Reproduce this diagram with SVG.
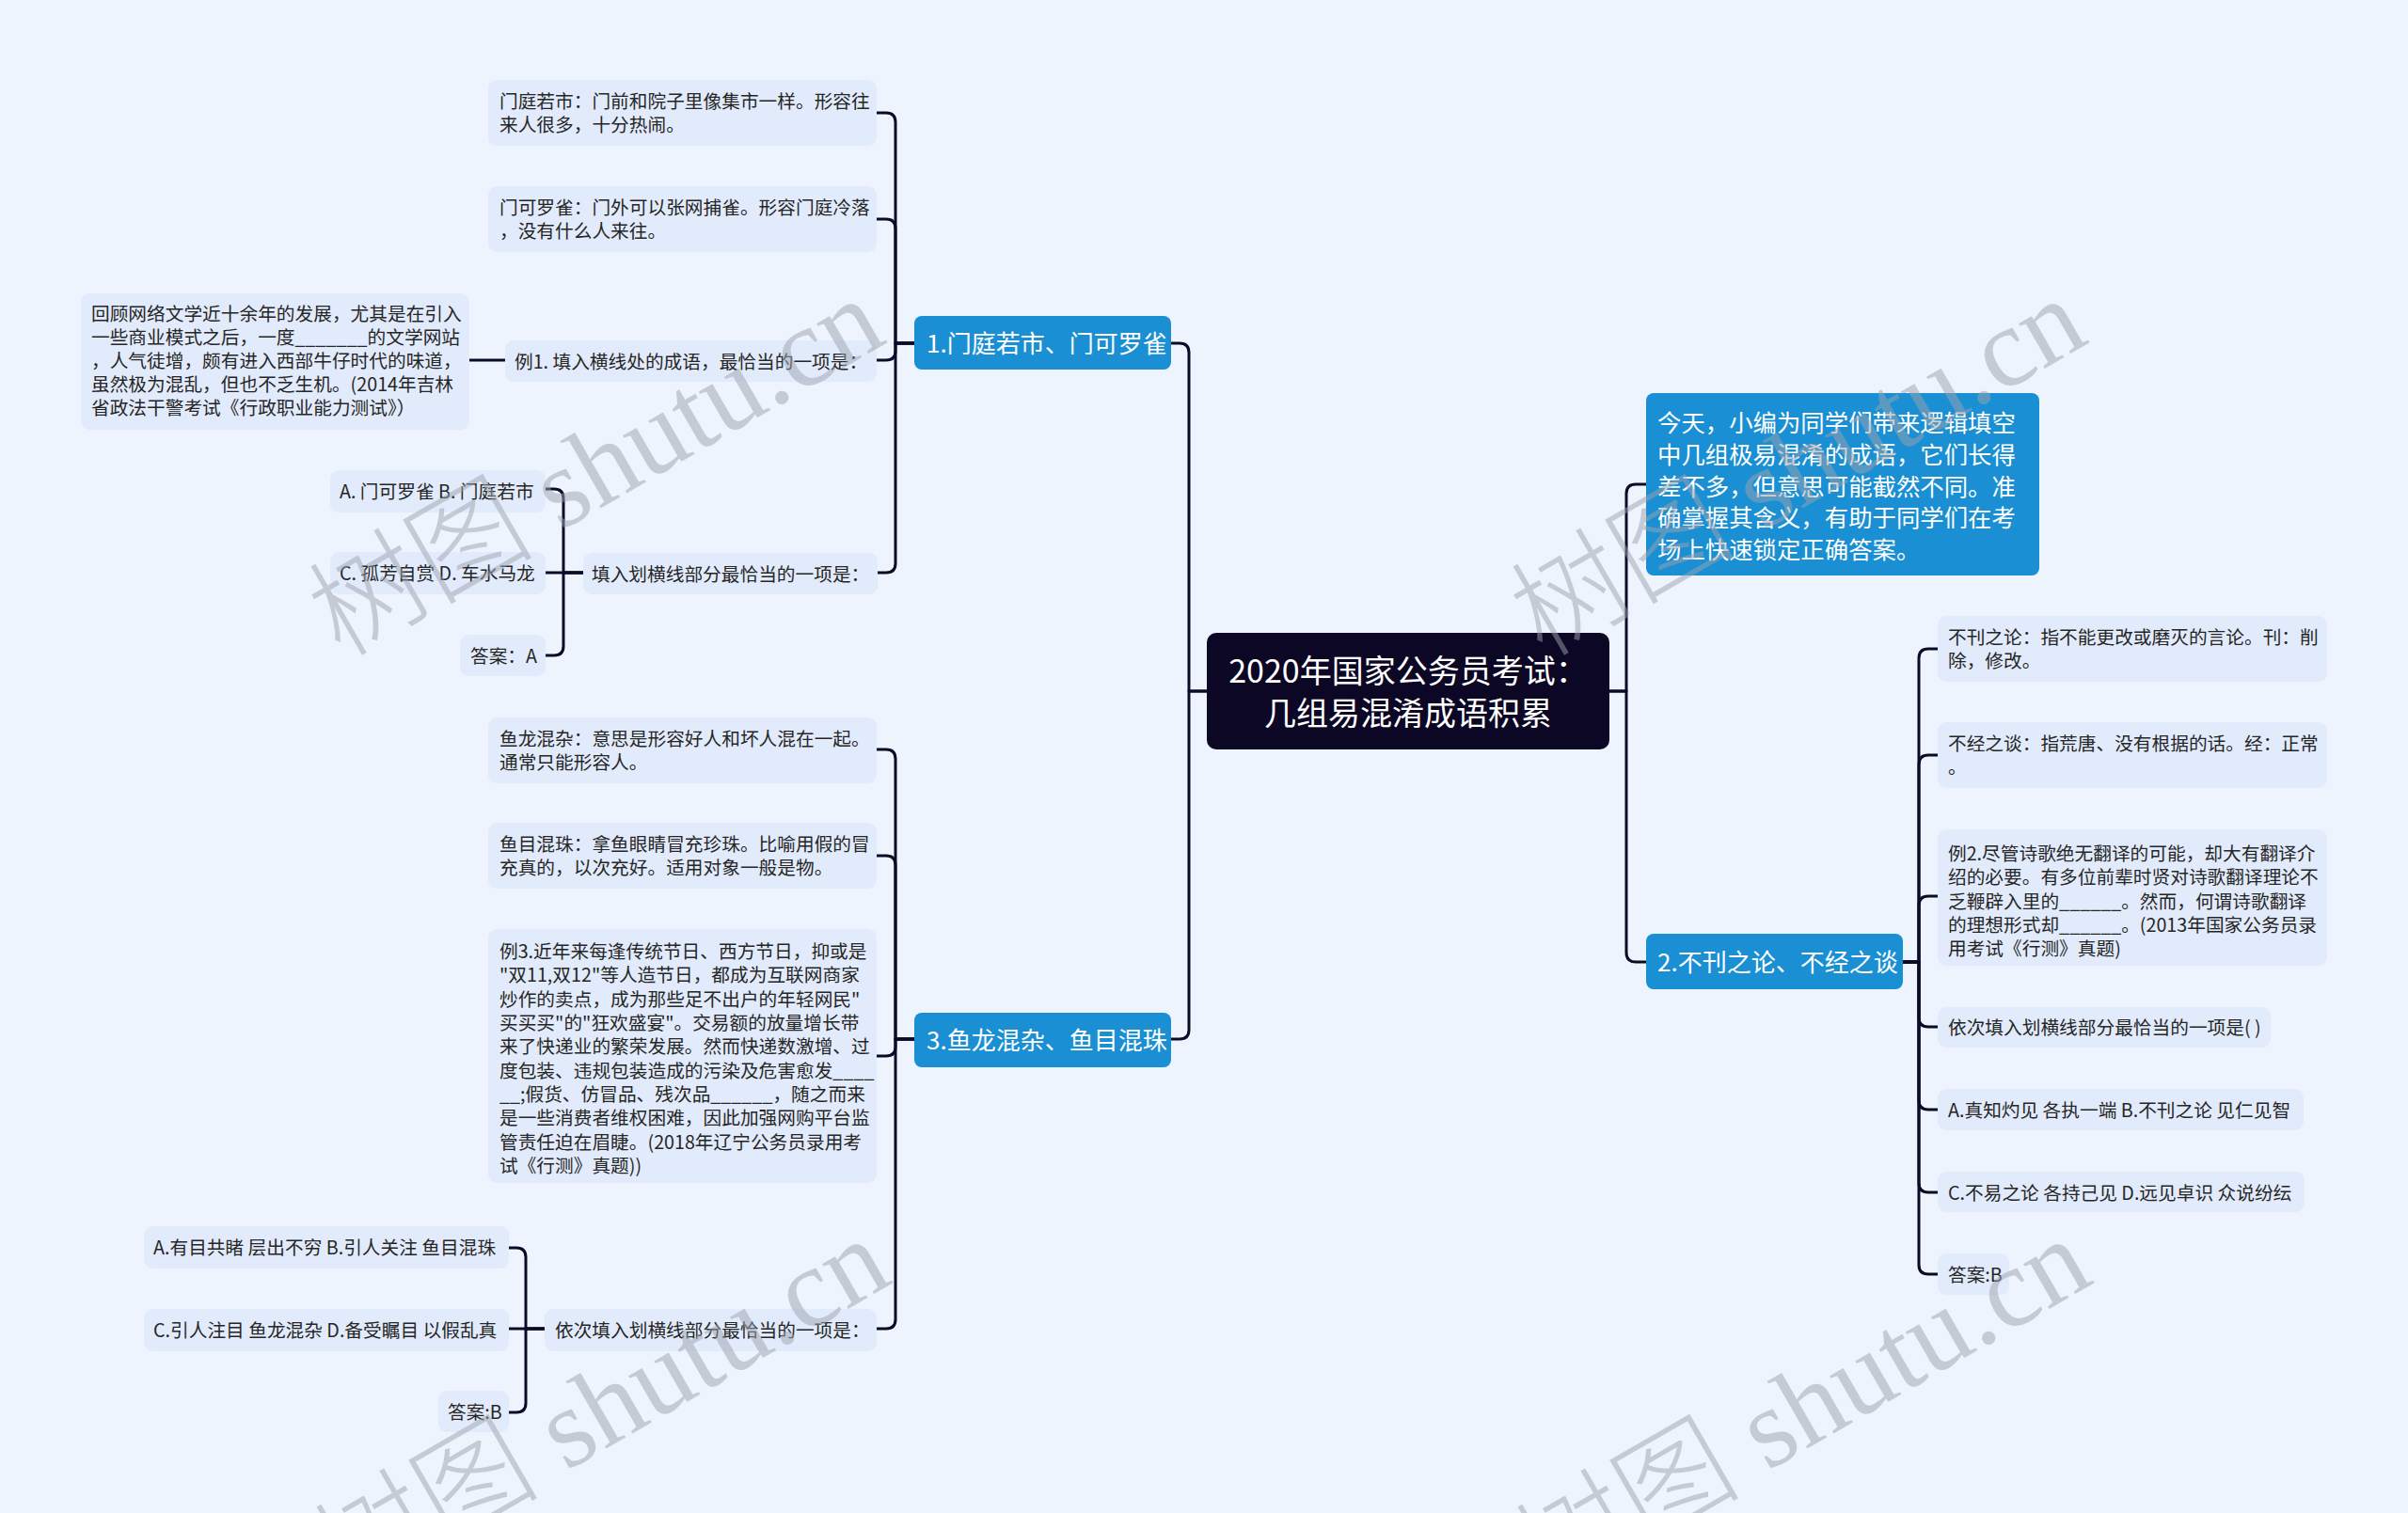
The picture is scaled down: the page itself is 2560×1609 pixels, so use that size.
<svg xmlns="http://www.w3.org/2000/svg" width="2560" height="1609" viewBox="0 0 2560 1609">
<style>
.bg{fill:#eef4fe}
.leaf{fill:#e2ebfb}
.br{fill:#1a8fd3}
.root{fill:#0b0724}
.t{font-family:"Noto Sans CJK SC","Noto Sans",sans-serif;font-size:19.7px;fill:#262626}
.tb{font-family:"Noto Sans CJK SC","Noto Sans",sans-serif;font-size:26px;fill:#ffffff}
.ti{font-family:"Noto Sans CJK SC","Noto Sans",sans-serif;font-size:25.4px;fill:#ffffff}
.tr{font-family:"Noto Sans CJK SC","Noto Sans",sans-serif;font-size:34px;fill:#ffffff;text-anchor:middle}
.c{fill:none;stroke:#0c0a26;stroke-width:3;stroke-linejoin:round}
.wm{font-family:"Liberation Serif","Noto Sans CJK SC",serif;font-size:120px;font-weight:300;fill:#9da3ae;opacity:0.5}
</style>
<rect class="bg" x="0" y="0" width="2560" height="1609"/>
<g id="connectors">
<path class="c" d="M1283,735 H1264 V375 Q1264,365 1254,365 H1245"/>
<path class="c" d="M1283,735 H1264 V1095 Q1264,1105 1254,1105 H1245"/>
<path class="c" d="M1711,735 H1729 V525 Q1729,515 1739,515 H1750"/>
<path class="c" d="M1711,735 H1729 V1013 Q1729,1023 1739,1023 H1750"/>
<path class="c" d="M972,365 H952 V130 Q952,120 942,120 H932"/>
<path class="c" d="M972,365 H952 V243 Q952,233 942,233 H932"/>
<path class="c" d="M972,365 H952 V373 Q952,383 942,383 H932"/>
<path class="c" d="M972,365 H952 V599 Q952,609 942,609 H933"/>
<path class="c" d="M537,383 H499"/>
<path class="c" d="M620,609 H599 V530 Q599,520 589,520 H580"/>
<path class="c" d="M620,609 H580"/>
<path class="c" d="M620,609 H599 V687 Q599,697 589,697 H580"/>
<path class="c" d="M972,1105 H952 V807 Q952,797 942,797 H932"/>
<path class="c" d="M972,1105 H952 V920 Q952,910 942,910 H932"/>
<path class="c" d="M972,1105 H952 V1113 Q952,1123 942,1123 H932"/>
<path class="c" d="M972,1105 H952 V1403 Q952,1413 942,1413 H932"/>
<path class="c" d="M579,1413 H559 V1337 Q559,1327 549,1327 H541"/>
<path class="c" d="M579,1413 H541"/>
<path class="c" d="M579,1413 H559 V1492 Q559,1502 549,1502 H541"/>
<path class="c" d="M2023,1023 H2040 V700 Q2040,690 2050,690 H2060"/>
<path class="c" d="M2023,1023 H2040 V813 Q2040,803 2050,803 H2060"/>
<path class="c" d="M2023,1023 H2040 V963 Q2040,953 2050,953 H2060"/>
<path class="c" d="M2023,1023 H2040 V1082 Q2040,1092 2050,1092 H2060"/>
<path class="c" d="M2023,1023 H2040 V1170 Q2040,1180 2050,1180 H2060"/>
<path class="c" d="M2023,1023 H2040 V1258 Q2040,1268 2050,1268 H2060"/>
<path class="c" d="M2023,1023 H2040 V1345 Q2040,1355 2050,1355 H2060"/>
</g>
<g id="root">
<rect class="root" x="1283" y="673" width="428" height="124" rx="10"/>
<text class="tr" x="1497" y="726">2020年国家公务员考试：</text>
<text class="tr" x="1497" y="771">几组易混淆成语积累</text>
</g>
<g id="intro">
<rect class="br" x="1750" y="418" width="418" height="194" rx="8"/>
<text class="ti" x="1762" y="459">今天，小编为同学们带来逻辑填空</text>
<text class="ti" x="1762" y="493">中几组极易混淆的成语，它们长得</text>
<text class="ti" x="1762" y="527">差不多，但意思可能截然不同。准</text>
<text class="ti" x="1762" y="560">确掌握其含义，有助于同学们在考</text>
<text class="ti" x="1762" y="594">场上快速锁定正确答案。</text>
</g>
<g id="b1">
<rect class="br" x="972" y="336" width="273" height="57" rx="8"/>
<text class="tb" x="985" y="375">1.门庭若市、门可罗雀</text>
</g>
<g id="b1a">
<rect class="leaf" x="519" y="85" width="413" height="70" rx="9"/>
<text class="t" x="531" y="115">门庭若市：门前和院子里像集市一样。形容往</text>
<text class="t" x="531" y="140">来人很多，十分热闹。</text>
</g>
<g id="b1b">
<rect class="leaf" x="519" y="198" width="413" height="70" rx="9"/>
<text class="t" x="531" y="228">门可罗雀：门外可以张网捕雀。形容门庭冷落</text>
<text class="t" x="531" y="253">，没有什么人来往。</text>
</g>
<g id="b1c">
<rect class="leaf" x="537" y="362" width="395" height="44" rx="9"/>
<text class="t" x="547" y="392">例1. 填入横线处的成语，最恰当的一项是：</text>
</g>
<g id="b1c1">
<rect class="leaf" x="86" y="312" width="413" height="145" rx="9"/>
<text class="t" x="97" y="341">回顾网络文学近十余年的发展，尤其是在引入</text>
<text class="t" x="97" y="366">一些商业模式之后，一度_______的文学网站</text>
<text class="t" x="97" y="391">，人气徒增，颇有进入西部牛仔时代的味道，</text>
<text class="t" x="97" y="416">虽然极为混乱，但也不乏生机。(2014年吉林</text>
<text class="t" x="97" y="441">省政法干警考试《行政职业能力测试》）</text>
</g>
<g id="b1d">
<rect class="leaf" x="620" y="588" width="313" height="44" rx="9"/>
<text class="t" x="629" y="618">填入划横线部分最恰当的一项是：</text>
</g>
<g id="b1d1">
<rect class="leaf" x="351" y="500" width="229" height="45" rx="9"/>
<text class="t" x="361" y="530">A. 门可罗雀 B. 门庭若市</text>
</g>
<g id="b1d2">
<rect class="leaf" x="351" y="587" width="229" height="45" rx="9"/>
<text class="t" x="361" y="617">C. 孤芳自赏 D. 车水马龙</text>
</g>
<g id="b1d3">
<rect class="leaf" x="489" y="675" width="91" height="44" rx="9"/>
<text class="t" x="500" y="705">答案：A</text>
</g>
<g id="b3">
<rect class="br" x="972" y="1077" width="273" height="58" rx="8"/>
<text class="tb" x="985" y="1116">3.鱼龙混杂、鱼目混珠</text>
</g>
<g id="b3a">
<rect class="leaf" x="519" y="763" width="413" height="70" rx="9"/>
<text class="t" x="531" y="793">鱼龙混杂：意思是形容好人和坏人混在一起。</text>
<text class="t" x="531" y="818">通常只能形容人。</text>
</g>
<g id="b3b">
<rect class="leaf" x="519" y="875" width="413" height="70" rx="9"/>
<text class="t" x="531" y="905">鱼目混珠：拿鱼眼睛冒充珍珠。比喻用假的冒</text>
<text class="t" x="531" y="930">充真的，以次充好。适用对象一般是物。</text>
</g>
<g id="b3c">
<rect class="leaf" x="519" y="988" width="413" height="270" rx="9"/>
<text class="t" x="531" y="1019">例3.近年来每逢传统节日、西方节日，抑或是</text>
<text class="t" x="531" y="1044">"双11,双12"等人造节日，都成为互联网商家</text>
<text class="t" x="531" y="1070">炒作的卖点，成为那些足不出户的年轻网民"</text>
<text class="t" x="531" y="1095">买买买"的"狂欢盛宴"。交易额的放量增长带</text>
<text class="t" x="531" y="1120">来了快递业的繁荣发展。然而快递数激增、过</text>
<text class="t" x="531" y="1146">度包装、违规包装造成的污染及危害愈发____</text>
<text class="t" x="531" y="1171">__;假货、仿冒品、残次品______，随之而来</text>
<text class="t" x="531" y="1196">是一些消费者维权困难，因此加强网购平台监</text>
<text class="t" x="531" y="1222">管责任迫在眉睫。(2018年辽宁公务员录用考</text>
<text class="t" x="531" y="1247">试《行测》真题))</text>
</g>
<g id="b3d">
<rect class="leaf" x="579" y="1392" width="353" height="45" rx="9"/>
<text class="t" x="590" y="1422">依次填入划横线部分最恰当的一项是：</text>
</g>
<g id="b3d1">
<rect class="leaf" x="153" y="1304" width="388" height="45" rx="9"/>
<text class="t" x="163" y="1334">A.有目共睹 层出不穷 B.引人关注 鱼目混珠</text>
</g>
<g id="b3d2">
<rect class="leaf" x="153" y="1392" width="388" height="45" rx="9"/>
<text class="t" x="163" y="1422">C.引人注目 鱼龙混杂 D.备受瞩目 以假乱真</text>
</g>
<g id="b3d3">
<rect class="leaf" x="466" y="1479" width="75" height="44" rx="9"/>
<text class="t" x="476" y="1509">答案:B</text>
</g>
<g id="b2">
<rect class="br" x="1750" y="993" width="273" height="59" rx="8"/>
<text class="tb" x="1762" y="1033">2.不刊之论、不经之谈</text>
</g>
<g id="b2a">
<rect class="leaf" x="2060" y="655" width="414" height="70" rx="9"/>
<text class="t" x="2071" y="685">不刊之论：指不能更改或磨灭的言论。刊：削</text>
<text class="t" x="2071" y="710">除，修改。</text>
</g>
<g id="b2b">
<rect class="leaf" x="2060" y="768" width="414" height="70" rx="9"/>
<text class="t" x="2071" y="798">不经之谈：指荒唐、没有根据的话。经：正常</text>
<text class="t" x="2071" y="823">。</text>
</g>
<g id="b2c">
<rect class="leaf" x="2060" y="882" width="414" height="145" rx="9"/>
<text class="t" x="2071" y="915">例2.尽管诗歌绝无翻译的可能，却大有翻译介</text>
<text class="t" x="2071" y="940">绍的必要。有多位前辈时贤对诗歌翻译理论不</text>
<text class="t" x="2071" y="966">乏鞭辟入里的______。然而，何谓诗歌翻译</text>
<text class="t" x="2071" y="991">的理想形式却______。(2013年国家公务员录</text>
<text class="t" x="2071" y="1016">用考试《行测》真题)</text>
</g>
<g id="b2d">
<rect class="leaf" x="2060" y="1071" width="354" height="43" rx="9"/>
<text class="t" x="2071" y="1100">依次填入划横线部分最恰当的一项是( )</text>
</g>
<g id="b2e">
<rect class="leaf" x="2060" y="1158" width="389" height="44" rx="9"/>
<text class="t" x="2071" y="1188">A.真知灼见 各执一端 B.不刊之论 见仁见智</text>
</g>
<g id="b2f">
<rect class="leaf" x="2060" y="1246" width="390" height="43" rx="9"/>
<text class="t" x="2071" y="1276">C.不易之论 各持己见 D.远见卓识 众说纷纭</text>
</g>
<g id="b2g">
<rect class="leaf" x="2060" y="1333" width="76" height="44" rx="9"/>
<text class="t" x="2071" y="1363">答案:B</text>
</g>
<g id="watermarks">
<text class="wm" transform="translate(362,700) rotate(-30)">树图 shutu.cn</text>
<text class="wm" transform="translate(1640,700) rotate(-30)">树图 shutu.cn</text>
<text class="wm" transform="translate(368,1700) rotate(-30)">树图 shutu.cn</text>
<text class="wm" transform="translate(1645,1700) rotate(-30)">树图 shutu.cn</text>
</g>
</svg>
